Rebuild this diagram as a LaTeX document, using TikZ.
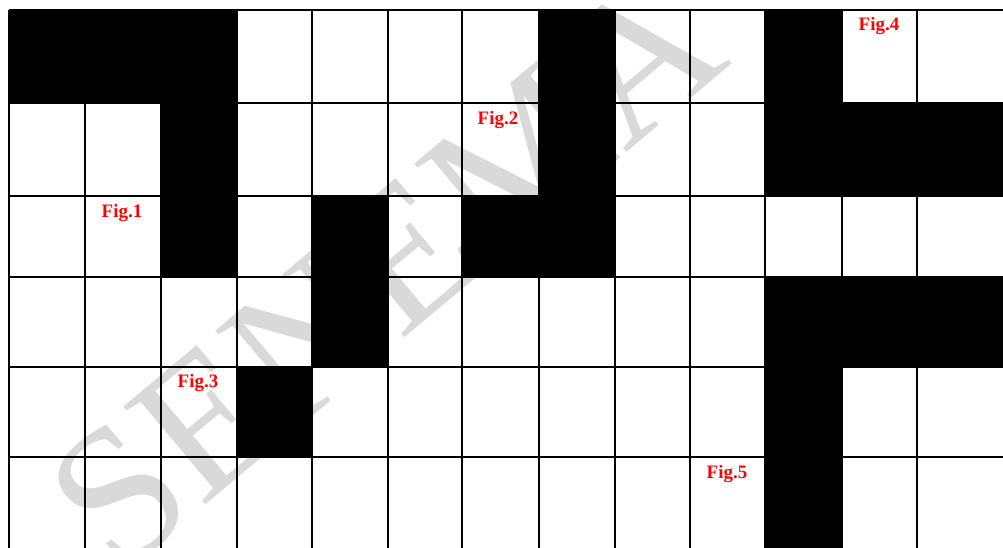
\documentclass[tikz,border=0pt]{standalone}
\usepackage{fontspec}
\setmainfont{Liberation Serif}
\begin{document}
\begin{tikzpicture}[x=1pt,y=-1pt,
  figlabel/.style={text=red,font=\bfseries\fontsize{19}{19}\selectfont,inner sep=0pt,anchor=base},
  blackcell/.style={fill=black},
  gridline/.style={line width=2pt,black},
  watermark/.style={text=gray!30,font=\fontsize{195}{195}\selectfont,inner sep=0pt,rotate=40}]
\useasboundingbox (0,0) rectangle (1003,548);
\clip (0,0) rectangle (1003,548);
\fill[white] (0,0) rectangle (1003,548);
% watermark
\node[watermark] (wm) at (385,272) {SENEMA};
% black figures
\fill[blackcell] (9,10) rectangle (237,103);
\fill[blackcell] (161,103) rectangle (237,277);
\fill[blackcell] (539,10) rectangle (615,277);
\fill[blackcell] (462,196) rectangle (539,277);
\fill[blackcell] (312,196) rectangle (388,367);
\fill[blackcell] (237,367) rectangle (312,457);
\fill[blackcell] (765,10) rectangle (842,196);
\fill[blackcell] (842,103) rectangle (1010,196);
\fill[blackcell] (765,277) rectangle (1010,367);
\fill[blackcell] (765,367) rectangle (842,560);
% grid
\foreach \x in {9,85,161,237,312,388,462,539,615,690,765,842,917}
  \draw[gridline] (\x,10) -- (\x,560);
\foreach \y in {10,103,196,277,367,457}
  \draw[gridline] (9,\y) -- (1010,\y);
% labels
\node[figlabel] (f1) at (122,217) {Fig.1};
\node[figlabel] (f2) at (498,125) {Fig.2};
\node[figlabel] (f3) at (198,387) {Fig.3};
\node[figlabel] (f4) at (879,31) {Fig.4};
\node[figlabel] (f5) at (727,478) {Fig.5};
\end{tikzpicture}
\end{document}
